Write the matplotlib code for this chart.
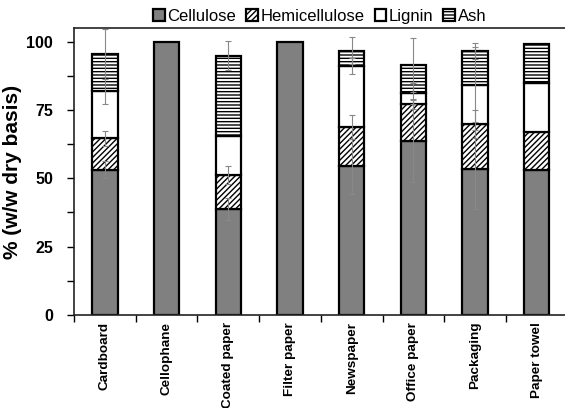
import matplotlib
matplotlib.use("Agg")
import matplotlib.pyplot as plt
import numpy as np
from matplotlib.ticker import MultipleLocator, FixedLocator

plt.rcParams['font.family'] = ['Liberation Sans', 'DejaVu Sans']
plt.rcParams['hatch.linewidth'] = 1.0

categories = ["Cardboard", "Cellophane", "Coated paper", "Filter paper",
              "Newspaper", "Office paper", "Packaging", "Paper towel"]
cellulose = [53.2, 100.0, 38.9, 100.0, 54.4, 63.8, 53.3, 53.1]
hemicellulose = [11.4, 0.0, 12.2, 0.0, 14.3, 13.3, 16.5, 13.7]
lignin = [17.4, 0.0, 14.5, 0.0, 22.3, 4.0, 14.5, 18.0]
ash = [13.4, 0.0, 29.3, 0.0, 5.7, 10.4, 12.3, 14.4]
cellulose_err = [3.0, 0.0, 4.0, 0.0, 10.0, 15.0, 14.4, 0.0]
hemicellulose_err = [2.7, 0.0, 3.3, 0.0, 4.3, 1.8, 5.2, 0.0]
lignin_err = [4.9, 0.0, 0.0, 0.0, 2.9, 3.9, 13.6, 0.0]
ash_err = [9.1, 0.0, 5.2, 0.0, 4.9, 10.0, 2.8, 0.0]

series = [
    ("Cellulose", cellulose, cellulose_err, "#808080", None),
    ("Hemicellulose", hemicellulose, hemicellulose_err, "white", "//////"),
    ("Lignin", lignin, lignin_err, "white", None),
    ("Ash", ash, ash_err, "white", "-----"),
]

fig = plt.figure(figsize=(5.65, 4.08), dpi=100)
ax = fig.add_axes([0.131, 0.228, 0.8736, 0.7034])

x = np.arange(len(categories))
bottom = np.zeros(len(categories))
width = 0.41
handles = []
for name, vals, errs, color, hatch in series:
    vals = np.array(vals)
    mask = vals > 0
    b = ax.bar(x[mask], vals[mask], width, bottom=bottom[mask], color=color,
               edgecolor="black", linewidth=1.6, hatch=hatch, label=name, zorder=2)
    handles.append(b)
    tops = bottom + vals
    errs = np.array(errs)
    em = errs > 0
    ax.errorbar(x[em], tops[em], yerr=errs[em], fmt="none", ecolor="#888888",
                elinewidth=0.8, capsize=2, capthick=0.8, zorder=3, clip_on=False)
    bottom = tops

ax.set_xlim(-0.5, len(categories) - 0.5)
ax.set_ylim(0, 105)
ax.yaxis.set_major_locator(FixedLocator([0, 25, 50, 75, 100]))
ax.yaxis.set_minor_locator(MultipleLocator(12.5))
ax.set_xticks(x)
ax.set_xticklabels(categories, rotation=90, fontsize=9.7, fontweight="bold")
ax.set_xticks(np.arange(-0.5, len(categories)), minor=True)
ax.tick_params(axis="x", which="major", length=0, pad=5)
ax.tick_params(axis="x", which="minor", length=5, direction="out", width=1)
ax.tick_params(axis="y", which="both", length=5, direction="out", width=1,
               labelsize=11.5, pad=10)
for lab in ax.get_yticklabels():
    lab.set_fontweight("bold")
ax.set_ylabel("% (w/w dry basis)", fontsize=15, fontweight="bold", labelpad=3)

for s in ["left", "bottom", "top"]:
    ax.spines[s].set_linewidth(1.2)
    ax.spines[s].set_color("#222222")
ax.spines["right"].set_visible(False)

fig.legend(handles=handles, labels=[s[0] for s in series], loc="upper center",
           bbox_to_anchor=(0.566, 1.015), ncol=4, frameon=False, fontsize=12,
           handlelength=0.7, handleheight=0.7, handletextpad=0.15,
           columnspacing=0.6)

fig.savefig("out.png", dpi=100)
